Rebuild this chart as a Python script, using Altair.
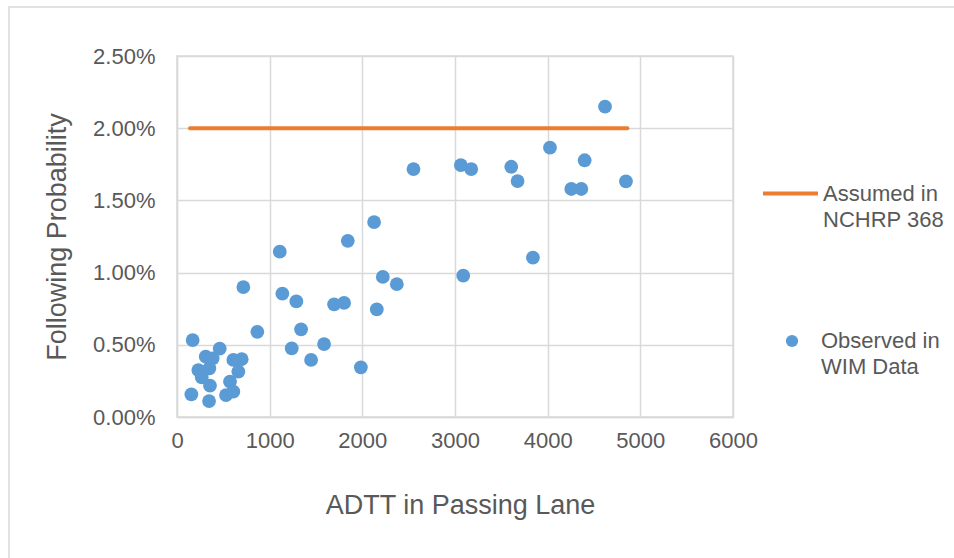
import altair as alt
import pandas as pd

# Observed in WIM data
adtt = [155, 169, 230, 267, 310, 349, 356, 346, 385, 461,
        608, 572, 529, 608, 662, 698, 716, 867, 1109, 1137,
        1288, 1339, 1238, 1447, 1587, 1695, 1803, 1843, 1984, 2127,
        2156, 2221, 2372, 2552, 3063, 3089, 3175, 3607, 3675, 3841,
        4025, 4255, 4363, 4399, 4619, 4845]
prob_pct = [0.157, 0.533, 0.325, 0.275, 0.418, 0.337, 0.217, 0.110, 0.406, 0.473,
            0.395, 0.245, 0.152, 0.175, 0.314, 0.400, 0.900, 0.590, 1.145, 0.854,
            0.800, 0.607, 0.475, 0.395, 0.505, 0.780, 0.790, 1.220, 0.344, 1.350,
            0.745, 0.970, 0.920, 1.717, 1.745, 0.979, 1.717, 1.733, 1.634, 1.103,
            1.865, 1.579, 1.579, 1.778, 2.149, 1.632]

# Assumed in NCHRP 368
line_adtt = [140, 4860]
line_pct = [2.0, 2.0]

x_ticks = [0, 1000, 2000, 3000, 4000, 5000, 6000]
y_ticks = [0.0, 0.005, 0.010, 0.015, 0.020, 0.025]

obs_name = "Observed in WIM Data"
line_name = "Assumed in NCHRP 368"

obs = pd.DataFrame({"ADTT": adtt, "P": [v / 100 for v in prob_pct], "Series": obs_name})
assumed = pd.DataFrame({"ADTT": line_adtt, "P": [v / 100 for v in line_pct], "Series": line_name})

FONT = "Liberation Sans"
GREY_TXT = "#595959"
GRID = "#d9d9d9"

x_enc = alt.X("ADTT:Q", scale=alt.Scale(domain=[0, 6000], nice=False),
              axis=alt.Axis(values=x_ticks, title="ADTT in Passing Lane", format="d",
                            labelFontSize=22, titleFontSize=27, labelPadding=13,
                            titlePadding=41, titleX=283, ticks=False, labelFlush=False))
y_enc = alt.Y("P:Q", scale=alt.Scale(domain=[0, 0.025], nice=False),
              axis=alt.Axis(values=y_ticks, format=".2%", title="Following Probability",
                            labelFontSize=22, titleFontSize=27, labelPadding=22,
                            titlePadding=21, ticks=False))

border = alt.Chart(pd.DataFrame({"a": [0]})).mark_rect(
    fill=None, stroke=GRID, strokeWidth=1.5, clip=False
).encode(x=alt.value(-168), x2=alt.value(790), y=alt.value(-49), y2=alt.value(520))

line = alt.Chart(assumed).mark_line(strokeWidth=4, strokeCap="round").encode(
    x=x_enc, y=y_enc,
    stroke=alt.Stroke("Series:N", scale=alt.Scale(domain=[line_name], range=["#ed7d31"]),
                      legend=alt.Legend(title=None, orient="none", legendX=584, legendY=108,
                                        symbolType="stroke", symbolSize=3025,
                                        symbolStrokeWidth=4, labelFontSize=22,
                                        labelBaseline="middle", labelOffset=3,
                                        labelColor=GREY_TXT, labelLimit=300, padding=0,
                                        labelExpr="['Assumed in', 'NCHRP 368']"))
)

points = alt.Chart(obs).mark_circle(size=190, opacity=1).encode(
    x=x_enc, y=y_enc,
    fill=alt.Fill("Series:N", scale=alt.Scale(domain=[obs_name], range=["#5b9bd5"]),
                  legend=alt.Legend(title=None, orient="none", legendX=604, legendY=274,
                                    symbolType="circle", symbolSize=150,
                                    symbolStrokeWidth=0, labelFontSize=22,
                                    labelBaseline="middle", labelOffset=18,
                                    labelColor=GREY_TXT, labelLimit=300, padding=0,
                                    labelExpr="['Observed in', 'WIM Data']"))
)

chart = alt.layer(border, line, points).resolve_scale(
    stroke="independent", fill="independent"
).properties(
    width=556, height=361,
    autosize=alt.AutoSizeParams(type="none"),
    padding={"left": 177, "top": 56, "right": 221, "bottom": 141},
    background="white",
).configure(
    font=FONT, style={"guide-label": {"lineHeight": 26}}
).configure_view(stroke=GRID, strokeWidth=1.5).configure_axis(
    gridColor=GRID, gridWidth=1.5, domainColor=GRID, domainWidth=1.5,
    labelColor=GREY_TXT, titleColor=GREY_TXT, labelFont=FONT, titleFont=FONT,
    titleFontWeight="normal"
).configure_legend(labelFont=FONT)

chart.save("out.html", embed_options={"renderer": "svg", "actions": False})
